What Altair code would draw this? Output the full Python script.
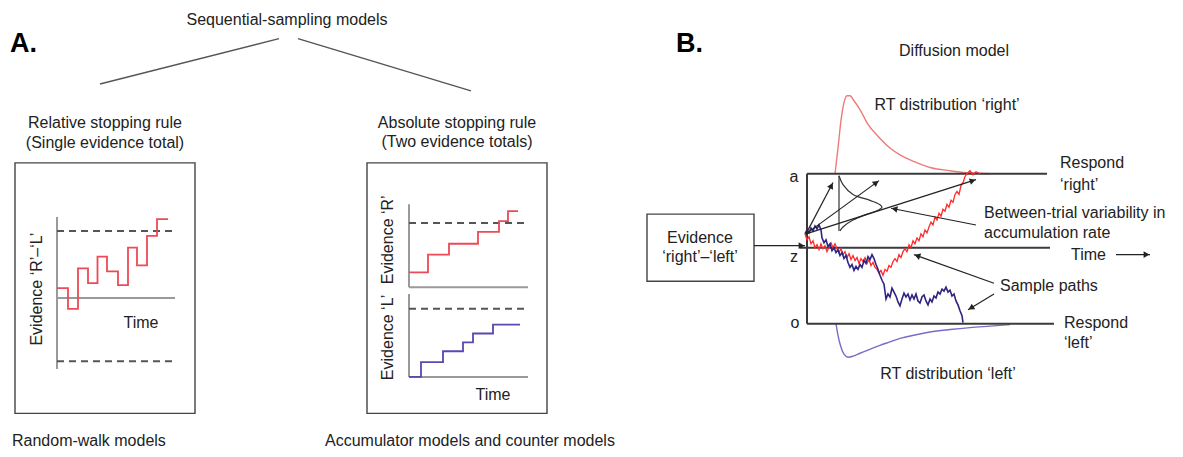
import math
import altair as alt
import pandas as pd

FONT = "Liberation Sans"

# ---------------- data (positions, pixel units) -------------
# panel A tree lines
tree_x = [100, 298]
tree_y = [85, 39]
tree_x2 = [279, 471]
tree_y2 = [39, 92]

# boxes (x, y, x2, y2)
box_x = [15, 367, 647]
box_y = [165, 165, 217]
box_x2 = [195, 547, 754]
box_y2 = [419, 419, 285]

# panel A axes
axA_x = [57, 57, 409, 409, 409, 409]
axA_y = [220, 302, 207, 291, 298, 382]
axA_x2 = [57, 175, 409, 528, 409, 528]
axA_y2 = [374, 302, 291, 291, 382, 382]

# panel A thresholds (dashed)
dash_x = [57, 57, 409, 409]
dash_y = [234, 366, 226, 313]
dash_x2 = [175, 175, 528, 528]

# panel A step paths
rw_x = [57, 68, 68, 78, 78, 88, 88, 97.5, 97.5, 107, 107, 118, 118, 128, 128, 137, 137, 147, 147, 157, 157, 168]
rw_y = [292, 292, 313, 313, 272, 272, 287, 287, 260, 260, 275, 275, 289, 289, 251, 251, 269, 269, 239, 239, 222, 222]
accR_x = [409, 428, 428, 449, 449, 478, 478, 499, 499, 508, 508, 518]
accR_y = [276, 276, 258, 258, 247, 247, 235, 235, 224, 224, 214, 214]
accL_x = [409, 421, 421, 443, 443, 463, 463, 473, 473, 493, 493, 520]
accL_y = [382, 382, 367, 367, 356, 356, 347, 347, 338, 338, 329, 329]

# panel B frame lines
frm_x = [807, 800, 807, 807]
frm_y = [176, 251, 328, 176]
frm_x2 = [1047, 1050, 1054, 807]
frm_y2 = [176, 251, 328, 328]

# drift distribution inside the diffusion box
gauss_base = (839, 178, 234)
gauss_x = [839, 843, 853, 870, 880, 882, 878, 867, 853, 843, 840]
gauss_y = [178, 187, 197, 203, 207.5, 210, 213, 217, 223, 230, 234]

# RT distributions
rtR_x = [835, 838, 841, 844, 847, 850, 854, 860, 868, 878, 890, 900, 915, 931, 950, 967, 990]
rtR_y = [176, 150, 122, 104, 97, 97, 102, 111, 126, 138, 150, 157, 164, 170, 173, 175, 176]
rtL_x = [836, 838, 841, 844, 848, 853, 860, 870, 880, 890, 900, 915, 930, 950, 970, 990, 1010]
rtL_y = [328, 340, 352, 359, 362, 361, 358, 354, 350, 346.5, 343, 339.5, 336.5, 334, 332, 330.5, 329]

# sample paths
red_x = [805, 807, 809, 811, 813, 815, 817, 819, 821, 823, 825, 827, 829, 831, 833, 835, 837, 839,
         841, 843, 845, 847, 849, 851, 853, 855, 857, 859, 861, 863, 865, 867, 869, 871, 873, 875,
         877, 879, 881, 883, 885, 887, 889, 891, 893, 895, 897, 899, 901, 903, 905, 907, 909, 911,
         913, 915, 917, 919, 921, 923, 925, 927, 929, 931, 933, 935, 937, 939, 941, 943, 945, 947,
         949, 951, 953, 955, 957, 959, 961, 963, 965, 967, 970, 973, 976, 980]
red_y = [237, 243, 240, 247, 244, 251, 248, 253, 247, 252, 249, 255, 250, 246, 251, 247, 252, 256,
         252, 258, 255, 261, 257, 263, 259, 264, 261, 267, 262, 265, 261, 267, 263, 269, 266, 271,
         273, 277, 274, 279, 273, 275, 269, 271, 265, 262, 265, 258, 261, 255, 252, 255, 248, 251,
         244, 247, 241, 244, 237, 240, 233, 236, 230, 225, 228, 220, 223, 216, 219, 212, 214, 207,
         210, 203, 205, 197, 194, 197, 188, 185, 179, 176, 173, 177, 174, 176]
blue_x = [805, 807, 809, 811, 813, 815, 817, 819, 821, 822, 824, 826, 828, 830, 832, 834, 836, 838,
          840, 842, 844, 846, 848, 850, 852, 854, 856, 858, 860, 862, 864, 866, 868, 870, 872, 874,
          876, 878, 880, 882, 884, 886, 888, 890, 892, 894, 896, 898, 900, 902, 904, 906, 908, 910,
          912, 914, 916, 918, 920, 922, 924, 926, 928, 930, 932, 934, 936, 938, 940, 942, 944, 946,
          948, 950, 952, 954, 956, 958, 960, 962, 963]
blue_y = [237, 233, 236, 231, 234, 229, 232, 228, 233, 241, 246, 243, 250, 247, 254, 251, 256, 253,
          259, 256, 262, 259, 266, 271, 268, 274, 270, 273, 268, 271, 264, 267, 260, 263, 258, 262,
          268, 273, 279, 284, 288, 303, 298, 301, 292, 296, 300, 306, 310, 303, 297, 301, 298, 304,
          299, 303, 298, 305, 307, 301, 299, 305, 309, 303, 306, 300, 302, 296, 298, 293, 295, 291,
          296, 294, 300, 298, 305, 309, 315, 320, 327]

# arrows (tail -> head)
arr_x = [806, 806, 806, 976, 994, 994, 754, 1116]
arr_y = [237, 237, 237, 228, 287, 298, 249, 258]
arr_x2 = [833, 879, 976, 891, 914, 968, 805, 1150]
arr_y2 = [185, 183, 182, 211, 258, 314, 249, 258]

# texts
c_text = ["Sequential-sampling models", "Relative stopping rule", "(Single evidence total)",
          "Absolute stopping rule", "(Two evidence totals)", "Time", "Time",
          "Evidence \u2018R\u2019\u2013\u2018L\u2019", "Evidence \u2018R\u2019", "Evidence \u2018L\u2019",
          "Diffusion model", "RT distribution \u2018right\u2019", "RT distribution \u2018left\u2019",
          "Evidence", "\u2018right\u2019\u2013\u2018left\u2019", "a", "z", "o"]
c_x = [287, 105, 105, 457, 457, 141, 493, 37, 388, 388, 954, 947, 948, 700, 700, 794, 794, 795]
c_y = [20, 125, 145, 125, 144, 327, 400, 293, 243, 342, 52, 106, 379, 241, 260, 179, 260, 327]
c_ang = [0, 0, 0, 0, 0, 0, 0, 270, 270, 270, 0, 0, 0, 0, 0, 0, 0, 0]

l_text = ["Random-walk models", "Accumulator models and counter models", "Respond", "\u2018right\u2019",
          "Between-trial variability in", "accumulation rate", "Time", "Sample paths",
          "Respond", "\u2018left\u2019"]
l_x = [12, 325, 1060, 1060, 984, 984, 1071, 1000, 1064, 1064]
l_y = [447, 447, 165, 187, 216, 236, 258, 290, 327, 348]

b_text = ["A.", "B."]
b_x = [10, 676]
b_y = [44, 44]

# ---------------- chart -------------------------------------------------------------
XS = alt.Scale(domain=[8, 1175], nice=False, zero=False)
YS = alt.Scale(domain=[8, 449], nice=False, zero=False, reverse=True)


def X(f="x"):
    return alt.X(f"{f}:Q", scale=XS, axis=None)


def Y(f="y"):
    return alt.Y(f"{f}:Q", scale=YS, axis=None)


def segs(xs, ys, x2s, y2s, **mk):
    df = pd.DataFrame({"x": xs, "y": ys, "x2": x2s, "y2": y2s})
    return alt.Chart(df).mark_rule(**mk).encode(x=X(), y=Y(), x2="x2:Q", y2="y2:Q")


def path(xs, ys, **mk):
    df = pd.DataFrame({"x": xs, "y": ys, "o": list(range(len(xs)))})
    return alt.Chart(df).mark_line(**mk).encode(x=X(), y=Y(), order="o:Q")


layers = []
layers.append(segs(tree_x, tree_y, tree_x2, tree_y2, color="#555555", strokeWidth=1.4))
layers.append(
    alt.Chart(pd.DataFrame({"x": box_x, "y": box_y, "x2": box_x2, "y2": box_y2}))
    .mark_rect(fill="transparent", stroke="#444444", strokeWidth=1.4)
    .encode(x=X(), y=Y(), x2="x2:Q", y2="y2:Q")
)
layers.append(segs(axA_x, axA_y, axA_x2, axA_y2, color="#9a9a9a", strokeWidth=2))
layers.append(segs(dash_x, dash_y, dash_x2, dash_y, color="#555555", strokeWidth=2, strokeDash=[7, 5]))
layers.append(path(rw_x, rw_y, color="#ee4a55", strokeWidth=1.8))
layers.append(path(accR_x, accR_y, color="#ee4a55", strokeWidth=1.8))
layers.append(path(accL_x, accL_y, color="#5a48b0", strokeWidth=1.8))

# panel B
layers.append(path(rtR_x, rtR_y, color="#f07a7a", strokeWidth=1.4, interpolate="monotone"))
layers.append(path(rtL_x, rtL_y, color="#7a6cc6", strokeWidth=1.4, interpolate="monotone"))
layers.append(segs(frm_x, frm_y, frm_x2, frm_y2, color="#3a3a3a", strokeWidth=2))
layers.append(segs([gauss_base[0]], [gauss_base[1]], [gauss_base[0]], [gauss_base[2]],
                   color="#333333", strokeWidth=1.2))
layers.append(path(gauss_x, gauss_y, color="#333333", strokeWidth=1.2, interpolate="catmull-rom"))
layers.append(path(red_x, red_y, color="#ff2a2a", strokeWidth=1.3))
layers.append(path(blue_x, blue_y, color="#2e237f", strokeWidth=1.6))

# arrows
layers.append(segs(arr_x, arr_y, arr_x2, arr_y2, color="#222222", strokeWidth=1.2))
hx, hy, ha = [], [], []
for x0, y0, x1, y1 in zip(arr_x, arr_y, arr_x2, arr_y2):
    L = math.hypot(x1 - x0, y1 - y0)
    ux, uy = (x1 - x0) / L, (y1 - y0) / L
    hx.append(x1 - ux * 3.5)
    hy.append(y1 - uy * 3.5)
    ha.append(math.degrees(math.atan2(ux, -uy)) % 360)
layers.append(
    alt.Chart(pd.DataFrame({"x": hx, "y": hy, "a": ha}))
    .mark_point(shape="triangle-up", filled=True, size=45, color="#222222", opacity=1)
    .encode(x=X(), y=Y(), angle=alt.Angle("a:Q", scale=None))
)

# texts
layers.append(
    alt.Chart(pd.DataFrame({"x": c_x, "y": c_y, "t": c_text, "a": c_ang}))
    .mark_text(align="center", baseline="middle", font=FONT, fontSize=16, color="#222222")
    .encode(x=X(), y=Y(), text="t:N", angle=alt.Angle("a:Q", scale=None))
)
layers.append(
    alt.Chart(pd.DataFrame({"x": l_x, "y": l_y, "t": l_text}))
    .mark_text(align="left", baseline="middle", font=FONT, fontSize=16, color="#222222")
    .encode(x=X(), y=Y(), text="t:N")
)
layers.append(
    alt.Chart(pd.DataFrame({"x": b_x, "y": b_y, "t": b_text}))
    .mark_text(align="left", baseline="middle", font=FONT, fontSize=27, fontWeight="bold", color="#000000")
    .encode(x=X(), y=Y(), text="t:N")
)

chart = (
    alt.layer(*layers)
    .properties(
        width=1167,
        height=441,
        padding=0,
        autosize=alt.AutoSizeParams(type="fit", contains="padding"),
        background="white",
    )
    .configure_view(stroke=None)
)

chart.save("out.html", embed_options={"renderer": "svg", "actions": False})
